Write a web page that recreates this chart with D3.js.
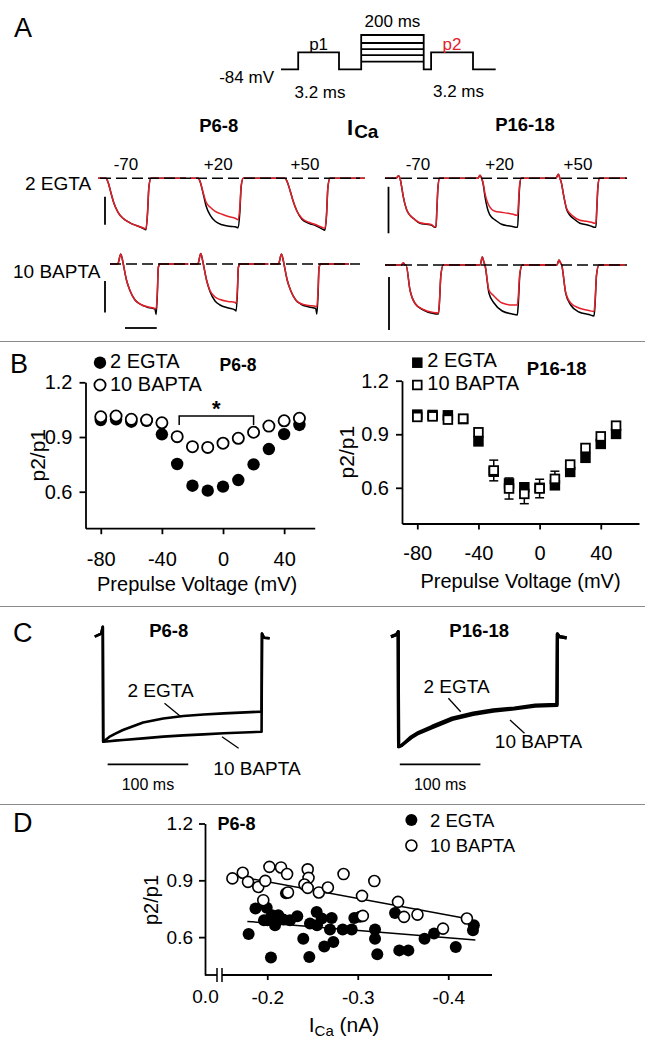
<!DOCTYPE html>
<html>
<head>
<meta charset="utf-8">
<script src="https://cdn.jsdelivr.net/npm/d3@7"></script>
<style>
html,body{margin:0;padding:0;background:#fff;}
svg{display:block;}
</style>
</head>
<body>
<svg id="fig" width="645" height="1048"></svg>
<script>
// ======================= DATA =======================
// Panel A - voltage protocol (time units, step levels relative to the test pulse)
const protoTimes = [0, 17.2, 58, 80.2, 142.7, 150.1, 192, 214.7];
const prepulseLevels = [0.45, 0.84, 1.19, 1.55, 2.02];
const testLevel = 1;

// Panel A - current traces (normalised current; p1 = black, p2 = red), time in ms
const traceLabels = ["-70", "+20", "+50"];
const tP68Egta = [-0.5, 0, 0.13, 0.32, 0.5, 0.76, 1.07, 1.51, 1.96, 2.33, 2.52, 2.62, 2.71, 2.84, 5.05];
const onsetP68Egta = [0, 5.82, 11.29];
const p68EgtaP1 = [
  [0, 0, -0.08, -0.30, -0.50, -0.68, -0.80, -0.89, -0.95, -1.00, -1.03, -0.70, -0.16, 0, 0],
  [0, 0, -0.08, -0.32, -0.56, -0.74, -0.86, -0.93, -0.96, -0.97, -0.99, -0.70, -0.16, 0, 0],
  [0, 0, -0.06, -0.24, -0.44, -0.66, -0.82, -0.90, -0.95, -1.01, -1.04, -0.76, -0.18, 0, 0]];
const p68EgtaP2 = [
  [0, 0, -0.08, -0.30, -0.50, -0.68, -0.80, -0.89, -0.95, -0.99, -1.01, -0.69, -0.16, 0, 0],
  [0, 0, -0.08, -0.30, -0.48, -0.58, -0.66, -0.72, -0.77, -0.80, -0.83, -0.60, -0.14, 0, 0],
  [0, 0, -0.06, -0.24, -0.44, -0.66, -0.80, -0.88, -0.93, -0.98, -1.00, -0.74, -0.18, 0, 0]];

const tP68Bapta = [-0.84, -0.35, -0.16, -0.05, 0, 0.21, 0.42, 0.74, 1.05, 1.58, 2.0, 2.07, 2.15, 2.21, 2.32, 4.1];
const onsetP68Bapta = [1.09, 6.14, 11.23];
const p68BaptaP1 = [
  [0, 0, 0.2, 0.08, 0, -0.33, -0.53, -0.72, -0.80, -0.87, -0.90, -1.01, -0.60, -0.07, 0, 0],
  [0, 0, 0.21, 0.08, 0, -0.33, -0.55, -0.74, -0.82, -0.88, -0.92, -0.94, -0.58, -0.07, 0, 0],
  [0, 0, 0.2, 0.08, 0, -0.33, -0.53, -0.72, -0.80, -0.86, -0.89, -1.00, -0.60, -0.07, 0, 0]];
const p68BaptaP2 = [
  [0, 0, 0.2, 0.08, 0, -0.33, -0.53, -0.72, -0.80, -0.86, -0.89, -0.90, -0.55, -0.07, 0, 0],
  [0, 0, 0.21, 0.08, 0, -0.33, -0.53, -0.66, -0.71, -0.75, -0.77, -0.79, -0.50, -0.07, 0, 0],
  [0, 0, 0.2, 0.08, 0, -0.33, -0.53, -0.72, -0.79, -0.83, -0.85, -0.86, -0.52, -0.07, 0, 0]];

const tP1618Egta = [-0.95, -0.25, -0.1, 0, 0.1, 0.21, 0.42, 0.63, 0.84, 1.26, 1.68, 2.0, 2.2, 2.27, 2.33, 2.4, 2.5, 4.2];
const onsetP1618Egta = [0, 5.15, 10.09];
const p1618EgtaP1 = [
  [0, 0, 0.05, 0, -0.16, -0.37, -0.63, -0.74, -0.80, -0.90, -0.92, -0.94, -0.98, -0.98, -0.60, -0.16, 0, 0],
  [0, 0, 0.06, 0, -0.12, -0.36, -0.66, -0.78, -0.83, -0.92, -0.95, -0.97, -0.98, -0.98, -0.60, -0.16, 0, 0],
  [0, 0, 0.08, 0, -0.10, -0.30, -0.62, -0.74, -0.80, -0.90, -0.93, -0.96, -0.98, -0.98, -0.60, -0.16, 0, 0]];
const p1618EgtaP2 = [
  [0, 0, 0.05, 0, -0.16, -0.37, -0.63, -0.74, -0.80, -0.89, -0.91, -0.93, -0.97, -0.97, -0.60, -0.16, 0, 0],
  [0, 0, 0.06, 0, -0.10, -0.30, -0.52, -0.62, -0.66, -0.68, -0.70, -0.72, -0.74, -0.74, -0.46, -0.12, 0, 0],
  [0, 0, 0.08, 0, -0.10, -0.30, -0.60, -0.70, -0.76, -0.84, -0.86, -0.88, -0.90, -0.90, -0.56, -0.15, 0, 0]];

const tP1618Bapta = [-1.32, -0.3, -0.17, -0.05, 0, 0.25, 0.57, 1.09, 1.72, 2.04, 2.1, 2.2, 2.35, 4.0];
const onsetP1618Bapta = [0.38, 5.36, 10.2];
const p1618BaptaP1 = [
  [0, 0, 0.04, 0, 0, -0.50, -0.77, -0.90, -0.97, -0.98, -0.80, -0.20, 0, 0],
  [0, 0, 0.16, 0.04, 0, -0.56, -0.76, -0.92, -0.98, -1.00, -0.80, -0.20, 0, 0],
  [0, 0, 0.10, 0.03, 0, -0.56, -0.80, -0.94, -0.99, -1.02, -0.82, -0.20, 0, 0]];
const p1618BaptaP2 = [
  [0, 0, 0.04, 0, 0, -0.50, -0.77, -0.89, -0.95, -0.96, -0.78, -0.20, 0, 0],
  [0, 0, 0.16, 0.04, 0, -0.50, -0.62, -0.76, -0.80, -0.80, -0.64, -0.16, 0, 0],
  [0, 0, 0.10, 0.03, 0, -0.54, -0.76, -0.86, -0.91, -0.93, -0.75, -0.19, 0, 0]];

// Panel B - p2/p1 vs prepulse voltage
const bVolt = [-80, -70, -60, -50, -40, -30, -20, -10, 0, 10, 20, 30, 40, 50];
const bP68Egta  = [0.993, 0.997, 0.984, 0.989, 0.915, 0.752, 0.633, 0.606, 0.628, 0.664, 0.750, 0.834, 0.916, 0.966];
const bP68Bapta = [1.011, 1.015, 0.997, 0.993, 0.978, 0.902, 0.847, 0.843, 0.866, 0.893, 0.926, 0.960, 0.989, 1.003];
const bP1618Egta  = [1.010, 1.008, 1.006, 0.985, 0.860, 0.690, 0.624, 0.603, 0.600, 0.614, 0.689, 0.768, 0.846, 0.902];
const bP1618Bapta = [0.997, 1.000, 0.982, 0.987, 0.911, 0.697, 0.596, 0.566, 0.596, 0.650, 0.730, 0.823, 0.888, 0.948];
const bP1618BaptaErr = [0, 0, 0, 0, 0.01, 0.058, 0.059, 0.055, 0.052, 0.043, 0.02, 0.01, 0, 0];
const bSigRange = [-30, 20];
const bTicksX = [-80, -40, 0, 40];
const bTicksY = [0.6, 0.9, 1.2];

// Panel C - 200 ms prepulse currents (normalised), time in ms
const cP68Time  = [-10, -2, 0, 0.5, 8, 15, 25, 50, 75, 100, 125, 150, 197, 197.5, 200, 207];
const cP68Egta  = [0, 0.03, 0.095, -1, -0.955, -0.925, -0.889, -0.817, -0.779, -0.755, -0.741, -0.730, -0.714, 0.03, -0.01, -0.015];
const cP68Bapta = [0, 0.03, 0.095, -1, -0.995, -0.99, -0.984, -0.968, -0.952, -0.940, -0.930, -0.920, -0.905, 0.03, -0.01, -0.015];
const cP1618Time  = [-9, -2, 0, 0.5, 4, 10, 16, 25, 42, 67, 93, 118, 144, 170, 197, 197.5, 200, 209];
const cP1618Egta  = [0, 0.02, 0.045, -1, -0.99, -0.95, -0.91, -0.87, -0.815, -0.740, -0.695, -0.665, -0.648, -0.622, -0.615, 0.025, 0, -0.01];
const cP1618Bapta = [0, 0.02, 0.045, -1, -0.99, -0.955, -0.92, -0.88, -0.828, -0.752, -0.706, -0.676, -0.657, -0.632, -0.625, 0.025, 0, -0.01];

// Panel D - p2/p1 vs ICa (P6-8)
const dEgtaICa = [-0.1794, -0.1870, -0.1994, -0.2001, -0.2052, -0.2086, -0.2041, -0.2122, -0.2177, -0.2207,
  -0.2332, -0.2398, -0.2465, -0.2472, -0.2546, -0.2602, -0.2630, -0.2550, -0.2730, -0.2712, -0.2693, -0.2834,
  -0.2933, -0.2962, -0.3025, -0.3191, -0.3191, -0.3216, -0.3412, -0.3459, -0.3559, -0.3738, -0.3843, -0.4083,
  -0.4273, -0.4283, -0.1964, -0.2251];
const dEgtaRatio = [0.617, 0.751, 0.755, 0.689, 0.716, 0.663, 0.492, 0.716, 0.693, 0.832,
  0.710, 0.592, 0.495, 0.672, 0.733, 0.698, 0.551, 0.663, 0.574, 0.701, 0.640, 0.640,
  0.640, 0.701, 0.707, 0.640, 0.592, 0.509, 0.728, 0.530, 0.530, 0.592, 0.619, 0.548,
  0.636, 0.663, 0.689, 0.689];
const dBaptaICa = [-0.1615, -0.1729, -0.1787, -0.1901, -0.1978, -0.2024, -0.1956, -0.2152, -0.2219, -0.2229,
  -0.2447, -0.2456, -0.2411, -0.2447, -0.2570, -0.2670, -0.2843, -0.3047, -0.3183, -0.3056, -0.3445, -0.3511,
  -0.3660, -0.3942, -0.4206];
const dBaptaRatio = [0.910, 0.940, 0.892, 0.865, 0.897, 0.971, 0.795, 0.968, 0.933, 0.836,
  0.958, 0.913, 0.878, 0.860, 0.836, 0.862, 0.933, 0.818, 0.896, 0.712, 0.786, 0.707,
  0.719, 0.645, 0.698];
const dEgtaFit  = [[-0.178, 0.683], [-0.430, 0.585]];
const dBaptaFit = [[-0.163, 0.925], [-0.420, 0.698]];
const dTicksX = [-0.2, -0.3, -0.4];
const dTicksY = [0.6, 0.9, 1.2];

// ======================= DRAWING =======================
const FONT = '"Liberation Sans", Arial, Helvetica, sans-serif';
const RED = "#e3212b";
const svg = d3.select("#fig");
svg.append("rect").attr("width", 645).attr("height", 1048).attr("fill", "#fff");

function text(g, x, y, str, o = {}) {
  const t = g.append("text").attr("x", x).attr("y", y).text(str)
    .attr("font-family", FONT).attr("font-size", o.size || 19)
    .attr("fill", o.fill || "#000").attr("text-anchor", o.anchor || "start");
  if (o.bold) t.attr("font-weight", "bold");
  if (o.rotate) t.attr("transform", `rotate(-90,${x},${y})`);
  return t;
}
function line(g, x1, y1, x2, y2, w = 1.8, c = "#000") {
  return g.append("line").attr("x1", x1).attr("y1", y1).attr("x2", x2).attr("y2", y2)
    .attr("stroke", c).attr("stroke-width", w);
}
function styleAxis(g, size) {
  g.attr("font-family", null).attr("font-size", null);
  g.selectAll("path,line").attr("stroke", "#000").attr("stroke-width", 1.8);
  g.selectAll("text").attr("font-family", FONT).attr("font-size", size).attr("fill", "#000");
}

// separators
[341.5, 606.5, 804.5].forEach(y => line(svg, 0, y, 645, y, 1.2, "#8a8a8a"));

// panel letters
[["A", 14, 37], ["B", 10, 373], ["C", 13, 642], ["D", 13, 832]].forEach(d =>
  text(svg, d[1], d[2], d[0], {size: 27}));

// ---------- Panel A : protocol ----------
(function () {
  const g = svg.append("g");
  const xP = d3.scaleLinear().domain([0, 214.7]).range([281, 495.7]);
  const yP = d3.scaleLinear().domain([0, 2.02]).range([69.3, 35]);
  const T = protoTimes, top = d3.max(prepulseLevels);
  const pts = [[T[0], 0], [T[1], 0], [T[1], testLevel], [T[2], testLevel], [T[2], 0], [T[3], 0],
    [T[3], top], [T[4], top], [T[4], 0], [T[5], 0], [T[5], testLevel], [T[6], testLevel], [T[6], 0], [T[7], 0]];
  g.append("path").attr("d", d3.line().x(d => xP(d[0])).y(d => yP(d[1]))(pts))
    .attr("fill", "none").attr("stroke", "#000").attr("stroke-width", 1.8);
  prepulseLevels.forEach(l => line(g, xP(T[3]), yP(l), xP(T[4]), yP(l)));
  text(g, xP((T[3] + T[4]) / 2), 27, "200 ms", {size: 17, anchor: "middle"});
  text(g, xP((T[1] + T[2]) / 2), 50, "p1", {size: 17, anchor: "middle"});
  text(g, xP((T[5] + T[6]) / 2), 50, "p2", {size: 17, anchor: "middle", fill: RED});
  text(g, 274, 83, "-84 mV", {size: 17, anchor: "end"});
  text(g, 320, 98, "3.2 ms", {size: 17, anchor: "middle"});
  text(g, 458.5, 97, "3.2 ms", {size: 17, anchor: "middle"});
})();

// ---------- Panel A : traces ----------
function traceRow(times, p1, p2, onsets, x0, base, dash) {
  const g = svg.append("g");
  const xs = d3.scaleLinear().domain([0, 1]).range([x0, x0 + 15.85]);
  const ys = d3.scaleLinear().domain([-1, 0]).range([base + 50, base]);
  const ln = d3.line().x(d => xs(d[0])).y(d => ys(d[1])).curve(d3.curveMonotoneX);
  [[p1, "#000"], [p2, RED]].forEach(([arr, col]) => {
    arr.forEach((vals, i) => {
      const pts = times.map((t, k) => [onsets[i] + t, vals[k]]);
      g.append("path").attr("d", ln(pts)).attr("fill", "none")
        .attr("stroke", col).attr("stroke-width", 1.5).attr("stroke-linejoin", "round");
    });
  });
  line(g, dash[0], ys(0), dash[1], ys(0), 1.5).attr("stroke-dasharray", "11,5");
  return {xs, ys};
}
const rL1 = traceRow(tP68Egta, p68EgtaP1, p68EgtaP2, onsetP68Egta, 106, 178.3, [100, 360]);
const rL2 = traceRow(tP68Bapta, p68BaptaP1, p68BaptaP2, onsetP68Bapta, 106, 264, [110, 360]);
const rR1 = traceRow(tP1618Egta, p1618EgtaP1, p1618EgtaP2, onsetP1618Egta, 400, 178.3, [385, 627]);
const rR2 = traceRow(tP1618Bapta, p1618BaptaP1, p1618BaptaP2, onsetP1618Bapta, 400, 265, [385, 627]);
// voltage labels
onsetP68Egta.forEach((o, i) => text(svg, rL1.xs(o) + 20, 170, traceLabels[i], {size: 17, anchor: "middle"}));
onsetP1618Egta.forEach((o, i) => text(svg, rR1.xs(o) + 18, 170, traceLabels[i], {size: 17, anchor: "middle"}));
// scale bars
line(svg, 105, rL1.ys(-0.37), 105, rL1.ys(-0.93));
line(svg, 105, rL2.ys(-0.34), 105, rL2.ys(-0.97));
line(svg, rL2.xs(1.2), 328, rL2.xs(3.2), 328);
line(svg, 388.5, rR1.ys(-0.17), 388.5, rR1.ys(-1.1));
line(svg, 389, rR2.ys(-0.24), 389, rR2.ys(-1.3));
// titles
text(svg, 218.7, 131.5, "P6-8", {size: 18.5, bold: true, anchor: "middle"});
text(svg, 525, 131, "P16-18", {size: 18.5, bold: true, anchor: "middle"});
(function () {
  const t = text(svg, 347, 135, "I", {size: 22, bold: true});
  t.append("tspan").attr("dy", 3).attr("font-size", 19).attr("dx", 1).text("Ca");
})();
text(svg, 25, 190, "2 EGTA", {size: 19});
text(svg, 13, 278, "10 BAPTA", {size: 19});

// ---------- Panel B ----------
function panelB(o) {
  const g = svg.append("g");
  const x = d3.scaleLinear().domain(o.xDom).range(o.xRange);
  const y = d3.scaleLinear().domain([0.4, 1.2]).range(o.yRange);
  const gx = g.append("g").attr("transform", `translate(0,${o.yRange[0]})`)
    .call(d3.axisBottom(x).tickValues(bTicksX).tickFormat(d => String(d)).tickSize(6).tickPadding(o.xPad).tickSizeOuter(0));
  const gy = g.append("g").attr("transform", `translate(${o.xRange[0]},0)`)
    .call(d3.axisLeft(y).tickValues(bTicksY).tickFormat(d => d.toFixed(1)).tickSize(6).tickPadding(7).tickSizeOuter(0));
  styleAxis(gx, 20); styleAxis(gy, 20);
  text(g, (o.xRange[0] + o.xRange[1]) / 2 + o.titleDx, o.titleY, "Prepulse Voltage (mV)", {size: 20, anchor: "middle"});
  text(g, o.ylabX, (o.yRange[0] + o.yRange[1]) / 2, "p2/p1", {size: 21, anchor: "middle", rotate: true});
  return {g, x, y};
}
// left (P6-8), circles
(function () {
  const {g, x, y} = panelB({xDom: [-90, 60], xRange: [85.5, 314.7], yRange: [528.2, 382.3], xPad: 18, titleDx: -3, titleY: 591, ylabX: 45});
  g.selectAll(".fe").data(bVolt).enter().append("circle")
    .attr("cx", d => x(d)).attr("cy", (d, i) => y(bP68Egta[i])).attr("r", 6.2).attr("fill", "#000");
  g.selectAll(".ob").data(bVolt).enter().append("circle")
    .attr("cx", d => x(d)).attr("cy", (d, i) => y(bP68Bapta[i])).attr("r", 5.6)
    .attr("fill", "#fff").attr("stroke", "#000").attr("stroke-width", 1.8);
  // significance bracket
  const by = 416, bx1 = x(bSigRange[0]) + 2, bx2 = x(bSigRange[1]);
  g.append("path").attr("d", `M${bx1},${by + 9}V${by}H${bx2}V${by + 9}`)
    .attr("fill", "none").attr("stroke", "#000").attr("stroke-width", 1.5);
  text(g, (bx1 + bx2) / 2, 416, "*", {size: 22, bold: true, anchor: "middle"});
  // legend
  g.append("circle").attr("cx", 100).attr("cy", 362.7).attr("r", 6.2).attr("fill", "#000");
  g.append("circle").attr("cx", 100).attr("cy", 385).attr("r", 5.6).attr("fill", "#fff").attr("stroke", "#000").attr("stroke-width", 1.8);
  text(g, 110, 367.5, "2 EGTA", {size: 20});
  text(g, 110, 390.5, "10 BAPTA", {size: 20});
  text(g, 238, 371, "P6-8", {size: 17.5, bold: true, anchor: "middle"});
})();
// right (P16-18), squares
(function () {
  const {g, x, y} = panelB({xDom: [-90, 65], xRange: [402, 639], yRange: [523.5, 380.7], xPad: 16, titleDx: 0, titleY: 588, ylabX: 354});
  const s = 10.5;
  bVolt.forEach((v, i) => {
    const e = bP1618BaptaErr[i];
    if (e > 0) {
      const cx = x(v), y1 = y(bP1618Bapta[i] + e), y2 = y(bP1618Bapta[i] - e);
      line(g, cx, y1, cx, y2, 1.5);
      line(g, cx - 4.5, y1, cx + 4.5, y1, 1.5);
      line(g, cx - 4.5, y2, cx + 4.5, y2, 1.5);
    }
  });
  g.selectAll(".fs").data(bVolt).enter().append("rect")
    .attr("x", d => x(d) - s / 2).attr("y", (d, i) => y(bP1618Egta[i]) - s / 2)
    .attr("width", s).attr("height", s).attr("fill", "#000");
  g.selectAll(".os").data(bVolt).enter().append("rect")
    .attr("x", d => x(d) - (s - 1.8) / 2).attr("y", (d, i) => y(bP1618Bapta[i]) - (s - 1.8) / 2)
    .attr("width", s - 1.8).attr("height", s - 1.8).attr("fill", "#fff").attr("stroke", "#000").attr("stroke-width", 1.8);
  g.append("rect").attr("x", 417.3 - s / 2).attr("y", 362.7 - s / 2).attr("width", s).attr("height", s).attr("fill", "#000");
  g.append("rect").attr("x", 417.3 - (s - 1.8) / 2).attr("y", 385 - (s - 1.8) / 2).attr("width", s - 1.8).attr("height", s - 1.8)
    .attr("fill", "#fff").attr("stroke", "#000").attr("stroke-width", 1.8);
  text(g, 427.3, 367, "2 EGTA", {size: 20});
  text(g, 427.3, 390, "10 BAPTA", {size: 20});
  text(g, 556.7, 375, "P16-18", {size: 18.5, bold: true, anchor: "middle"});
})();

// ---------- Panel C ----------
function panelC(o) {
  const g = svg.append("g");
  const x = d3.scaleLinear().domain([0, 200]).range([o.x0, o.x0 + 161.2]);
  const y = d3.scaleLinear().domain([-1, 0]).range([o.yMin, o.yBase]);
  const ln = d3.line().x(d => x(d[0])).y(d => y(d[1]));
  [o.bapta, o.egta].forEach(vals => {
    g.append("path").attr("d", ln(o.time.map((t, k) => [t, vals[k]])))
      .attr("fill", "none").attr("stroke", "#000").attr("stroke-width", o.w).attr("stroke-linejoin", "round");
  });
  line(g, x(o.bar[0]), 764.3, x(o.bar[0] + 100), 764.3, 1.8);
  text(g, x(o.bar[0] + 50), 789.5, "100 ms", {size: 16, anchor: "middle"});
  return {g, x, y};
}
(function () {
  const {g} = panelC({x0: 102.8, yBase: 636.7, yMin: 741.7, time: cP68Time, egta: cP68Egta, bapta: cP68Bapta, bar: [6], w: 2.6});
  text(g, 168.7, 636.5, "P6-8", {size: 18.5, bold: true, anchor: "middle"});
  text(g, 160.5, 696.5, "2 EGTA", {size: 19, anchor: "middle"});
  line(g, 164.5, 703.3, 181, 716.7, 1.3);
  text(g, 257, 775, "10 BAPTA", {size: 19, anchor: "middle"});
  line(g, 222, 736.7, 238.6, 748.3, 1.3);
})();
(function () {
  const {g} = panelC({x0: 398.2, yBase: 636.7, yMin: 746.7, time: cP1618Time, egta: cP1618Egta, bapta: cP1618Bapta, bar: [2], w: 3.2});
  text(g, 479.2, 636.5, "P16-18", {size: 18.5, bold: true, anchor: "middle"});
  text(g, 456.6, 693.3, "2 EGTA", {size: 19, anchor: "middle"});
  line(g, 448.4, 698.3, 460.7, 711.7, 1.3);
  text(g, 538.5, 748.3, "10 BAPTA", {size: 19, anchor: "middle"});
  line(g, 510, 720, 524.5, 733.3, 1.3);
})();

// ---------- Panel D ----------
(function () {
  const g = svg.append("g");
  const x = d3.scaleLinear().domain([-0.15, -0.45]).range([222, 493.5]);
  const y = d3.scaleLinear().domain([0.4, 1.2]).range([975, 823.5]);
  const axX0 = 205, axY = 975;
  const gy = g.append("g").attr("transform", `translate(${axX0},0)`)
    .call(d3.axisLeft(y).tickValues(dTicksY).tickFormat(d => d.toFixed(1)).tickSize(6).tickPadding(6).tickSizeOuter(0));
  styleAxis(gy, 19);
  const gx = g.append("g").attr("transform", `translate(0,${axY})`)
    .call(d3.axisBottom(x).tickValues(dTicksX).tickFormat(d => d.toFixed(1)).tickSize(5).tickPadding(11).tickSizeOuter(0));
  styleAxis(gx, 19);
  gx.select(".domain").remove();
  // broken axis
  line(g, axX0, axY, 217, axY);
  line(g, 222, axY, 492, axY);
  line(g, 217, axY - 7, 217, axY + 7, 1.5);
  line(g, 222, axY - 7, 222, axY + 7, 1.5);
  text(g, axX0 + 0.5, 1003.3, "0.0", {size: 19, anchor: "middle"});
  // fits
  const ln = d3.line().x(d => x(d[0])).y(d => y(d[1]));
  [dEgtaFit, dBaptaFit].forEach(f => g.append("path").attr("d", ln(f)).attr("stroke", "#000").attr("stroke-width", 1.5).attr("fill", "none"));
  // points
  g.selectAll(".de").data(dEgtaICa).enter().append("circle")
    .attr("cx", d => x(d)).attr("cy", (d, i) => y(dEgtaRatio[i])).attr("r", 6).attr("fill", "#000");
  g.selectAll(".db").data(dBaptaICa).enter().append("circle")
    .attr("cx", d => x(d)).attr("cy", (d, i) => y(dBaptaRatio[i])).attr("r", 5.5)
    .attr("fill", "#fff").attr("stroke", "#000").attr("stroke-width", 1.6);
  // labels
  text(g, 236.6, 830, "P6-8", {size: 18, bold: true, anchor: "middle"});
  g.append("circle").attr("cx", 411.4).attr("cy", 820).attr("r", 6).attr("fill", "#000");
  g.append("circle").attr("cx", 411.4).attr("cy", 845.5).attr("r", 5.5).attr("fill", "#fff").attr("stroke", "#000").attr("stroke-width", 1.6);
  text(g, 430, 826.7, "2 EGTA", {size: 18.5});
  text(g, 430, 852, "10 BAPTA", {size: 18.5});
  text(g, 158, 900, "p2/p1", {size: 20, anchor: "middle", rotate: true});
  const t = text(g, 344, 1032, "I", {size: 21, anchor: "middle"});
  t.append("tspan").attr("font-size", 15).attr("dy", 4).text("Ca");
  t.append("tspan").attr("font-size", 21).attr("dy", -4).text(" (nA)");
})();
</script>
</body>
</html>
